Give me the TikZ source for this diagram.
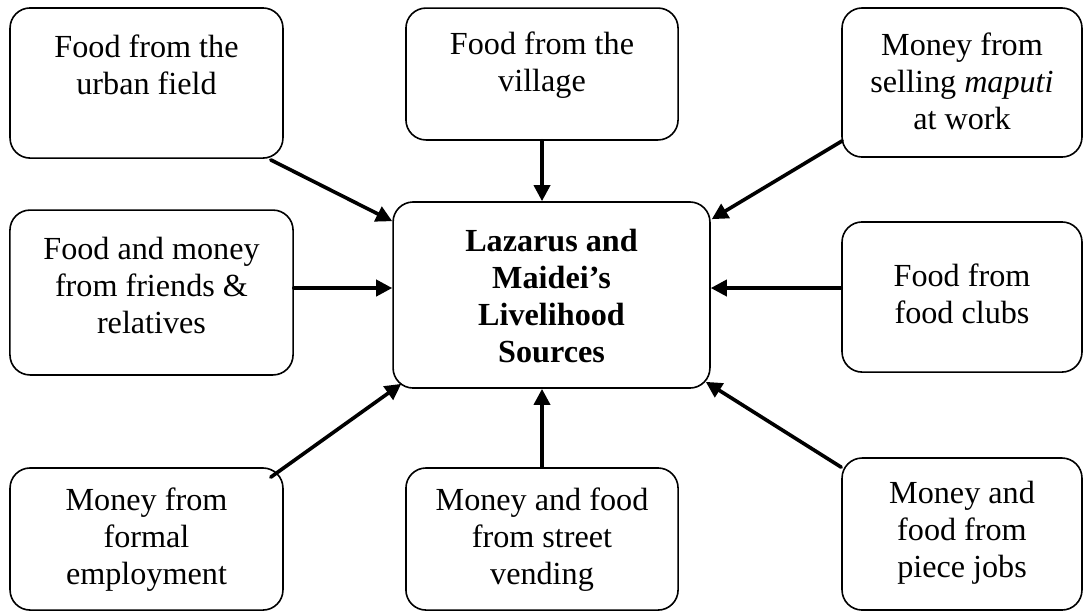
\documentclass[tikz,border=0pt]{standalone}
\usepackage{fontspec}
\setmainfont{Liberation Serif}
\usetikzlibrary{arrows.meta}

\begin{document}
\begin{tikzpicture}[x=0.373pt,y=-0.373pt,line cap=round,line join=round,
srcbox/.style={draw=black,line width=0.6pt,rounded corners=7.5pt,inner sep=0pt},
srctext/.style={align=center,inner sep=0pt,font=\fontsize{12}{13.8}\selectfont},
flow/.style={-{Triangle[length=6pt,width=6pt]},line width=1.35pt}]
\useasboundingbox (0,0) rectangle (1085,613);
% boxes: name/x/y/width/height
\foreach \name/\x/\y/\w/\h in {urban/146.5/83/101.8pt/56pt, village/542/74/101.5pt/49.2pt,
maputi/962/82.5/89.5pt/55.6pt, friends/151.5/292.5/105.6pt/61.5pt,
centre/551.5/295/118.2pt/69.4pt, clubs/962/297/89.5pt/56pt,
formal/146.5/539/101.8pt/53pt, vending/542/539/101.5pt/53pt, piece/962/534/89.5pt/56.7pt}
\node[srcbox,minimum width=\w,minimum height=\h] (\name) at (\x,\y) {};
% texts
\node[srctext] (urbantxt) at (146.5,65) {Food from the\\urban field};
\node[srctext] (villagetxt) at (542,65) {Food from the\\village};
\node[srctext] (maputitxt) at (962,81.5) {Money from\\selling \textit{maputi}\\at work};
\node[srctext] (friendstxt) at (151.5,285) {Food and money\\from friends \&\\relatives};
\node[srctext,font=\fontsize{12}{13.8}\selectfont\bfseries] (centretxt) at (551.5,296) {Lazarus and\\Maidei’s\\Livelihood\\Sources};
\node[srctext] (clubstxt) at (962,293.5) {Food from\\food clubs};
\node[srctext] (formaltxt) at (146.5,540) {Money from\\formal\\employment};
\node[srctext] (vendingtxt) at (542,540) {Money and food\\from street\\vending};
\node[srctext] (piecetxt) at (962,532.5) {Money and\\food from\\piece jobs};
\coordinate (midrow) at (0,288);
% arrows into the centre
\draw[flow] ([shift={(-13,1)}]urban.south east) -- ([shift={(0,20)}]centre.north west);
\draw[flow] (village.south) -- (village.south |- centre.north);
\draw[flow] ([shift={(1,-17)}]maputi.south west) -- ([shift={(1,18)}]centre.north east);
\draw[flow] (friends.east |- midrow) -- (centre.west |- midrow);
\draw[flow] (clubs.west |- midrow) -- (centre.east |- midrow);
\draw[flow] ([shift={(-13,10)}]formal.north east) -- ([shift={(9,-5)}]centre.south west);
\draw[flow] (vending.north) -- (vending.north |- centre.south);
\draw[flow] ([shift={(0,10)}]piece.north west) -- ([shift={(-5,-7)}]centre.south east);
\end{tikzpicture}
\end{document}
